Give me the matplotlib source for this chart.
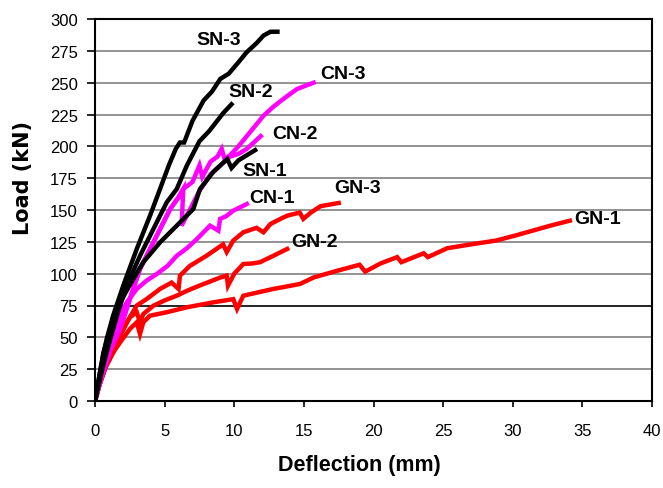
import matplotlib
matplotlib.use("Agg")
import matplotlib.pyplot as plt

plt.rcParams["font.family"] = ["Liberation Sans", "DejaVu Sans"]

# deflection (mm) / load (kN)
sn3_x = [0, 0.4, 0.84, 1.3, 2.03, 3.0, 3.95, 4.67, 5.3, 5.8, 6.1, 6.4, 7.0, 7.8, 8.4, 9.0, 9.6, 10.3, 10.9, 11.6, 12.1, 12.6, 13.1]
sn3_y = [0, 25, 48.7, 67, 90.6, 119.4, 145.5, 166.5, 185, 198, 203, 203, 220, 236, 243, 253, 257, 266, 274, 281, 287, 290, 290]

sn2_x = [0, 0.5, 1.0, 1.6, 2.28, 3.23, 4.19, 5.15, 5.87, 6.6, 7.5, 8.2, 8.7, 9.2, 9.8]
sn2_y = [0, 24, 45, 68, 90.6, 114, 135, 156, 166.5, 185, 204, 212, 219, 226, 233]

sn1_x = [0, 0.6, 1.08, 1.8, 2.75, 3.47, 4.67, 5.87, 7.06, 7.54, 8.5, 9.1, 9.5, 9.8, 10.3, 10.9, 11.5]
sn1_y = [0, 38, 56.5, 77.5, 95.8, 109, 124.6, 137.7, 150.8, 166.5, 180, 186, 190, 183, 189, 193, 197]

cn3_x = [0, 0.5, 1.1, 1.8, 2.5, 3.23, 4.19, 5.4, 6.0, 6.34, 7.0, 7.5, 7.7, 8.3, 8.8, 9.1, 9.3, 9.7, 10.3, 10.9, 11.5, 12.1, 12.8, 13.5, 14.5, 15.7]
cn3_y = [0, 20, 40, 56.5, 80, 103.7, 124.6, 150.8, 160, 166.5, 172, 185, 176, 188, 192, 198, 190, 193, 200, 208, 216, 224, 231, 237, 245, 250]

cn2_x = [0, 0.5, 1.1, 1.8, 2.5, 3.23, 4.19, 5.4, 6.0, 6.34, 6.22, 6.8, 7.5, 8.3, 9.0, 9.7, 10.3, 10.9, 11.4, 11.9]
cn2_y = [0, 20, 40, 56.5, 80, 103.7, 124.6, 150.8, 160, 166.5, 137.7, 150, 165, 178, 185, 192, 194, 198, 203, 208]

cn1_x = [0, 0.4, 0.9, 1.3, 1.8, 2.28, 3.0, 3.7, 4.43, 5.2, 5.87, 6.6, 7.3, 8.26, 8.86, 8.98, 9.4, 9.93, 10.4, 10.9]
cn1_y = [0, 18, 38, 52, 67, 77.5, 88, 94.5, 99.7, 106, 114, 120, 127, 137.7, 133.8, 143, 145, 149.5, 152, 154.7]

gn3_x = [0, 0.3, 0.7, 1.3, 1.8, 2.3, 3.0, 3.7, 4.67, 5.5, 6.0, 6.1, 6.8, 8.0, 9.2, 9.46, 9.93, 10.65, 11.6, 12.1, 12.6, 13.5, 13.8, 14.7, 14.96, 15.5, 16.2, 17.5]
gn3_y = [0, 12, 25, 38, 51, 62, 75, 80, 88, 93, 88, 98.4, 106, 114, 123, 117, 126, 132.5, 136, 132.5, 139, 144, 145.5, 148, 143, 148, 153, 155.5]

gn2_x = [0, 0.3, 0.8, 1.56, 2.03, 2.5, 3.0, 3.23, 3.47, 4.19, 5.0, 5.87, 6.7, 7.5, 8.3, 9.0, 9.46, 9.55, 10.0, 10.65, 11.3, 11.85, 12.8, 13.8]
gn2_y = [0, 12, 28, 46, 56.5, 65.7, 69.7, 61.8, 68.3, 74.8, 79, 82.7, 87, 90.6, 94, 97, 98.4, 90.6, 100, 107.6, 108, 109, 114, 119.4]

gn1_x = [0, 0.3, 0.8, 1.3, 1.8, 2.5, 3.0, 3.23, 3.47, 3.95, 5.15, 6.6, 8.5, 9.93, 10.2, 10.65, 12.8, 13.3, 14.72, 15.7, 17.3, 19.0, 19.4, 20.5, 21.7, 22.0, 23.6, 23.9, 25.3, 27.0, 28.8, 30.2, 31.5, 32.8, 34.1]
gn1_y = [0, 12, 28, 38, 46, 56.5, 61.8, 52.6, 61.8, 67, 69.7, 73.6, 77.5, 80, 72.3, 82.7, 88, 89, 91.9, 97, 102, 107, 101.6, 108, 113, 109, 116, 113, 120, 123, 126, 130, 134, 138, 141.6]

series = [
    ("GN-1", gn1_x, gn1_y, "#ff0000", 34.4, 143),
    ("GN-2", gn2_x, gn2_y, "#ff0000", 14.1, 125),
    ("GN-3", gn3_x, gn3_y, "#ff0000", 17.2, 168),
    ("CN-1", cn1_x, cn1_y, "#ff00ff", 11.1, 160),
    ("CN-2", cn2_x, cn2_y, "#ff00ff", 12.7, 210),
    ("CN-3", cn3_x, cn3_y, "#ff00ff", 16.2, 257),
    ("SN-1", sn1_x, sn1_y, "#000000", 10.55, 181),
    ("SN-2", sn2_x, sn2_y, "#000000", 9.55, 243),
    ("SN-3", sn3_x, sn3_y, "#000000", 7.25, 284),
]

fig = plt.figure(figsize=(6.63, 4.89), dpi=100)
ax = fig.add_axes([95 / 663, 87 / 489, 557 / 663, 382 / 489])

for yv in range(25, 300, 25):
    c = "#000000" if yv == 75 else "#808080"
    ax.axhline(yv, color=c, lw=1.2, zorder=1)

for name, xs, ys, col, lx, ly in series:
    ax.plot(xs, ys, color=col, lw=3.2, solid_joinstyle="miter", zorder=3)
    ax.text(lx, ly, name, fontsize=14, fontweight="bold", ha="left", va="center", zorder=4)

ax.set_xlim(0, 40)
ax.set_ylim(0, 300)
ax.set_xticks(range(0, 41, 5))
ax.set_yticks(range(0, 301, 25))
ax.tick_params(direction="out", width=1.2, labelsize=12)
ax.tick_params(axis="y", length=5.5, pad=7)
ax.tick_params(axis="x", length=4.5, pad=11.5)
for s in ax.spines.values():
    s.set_linewidth(1.5)

ax.set_xlabel("Deflection (mm)", fontsize=15.5, fontweight="bold",
              family=["Liberation Sans Narrow", "Liberation Sans"])
ax.xaxis.set_label_coords((359 - 95) / 557, (402 - 466) / 382)
ax.xaxis.label.set_va("center")
ax.set_ylabel("Load (kN)", fontsize=15, fontweight="bold", family=["DejaVu Sans"])
ax.yaxis.set_label_coords((23 - 95) / 557, (402 - 178) / 382)
ax.yaxis.label.set_va("center")

fig.savefig("out.png", dpi=100)
